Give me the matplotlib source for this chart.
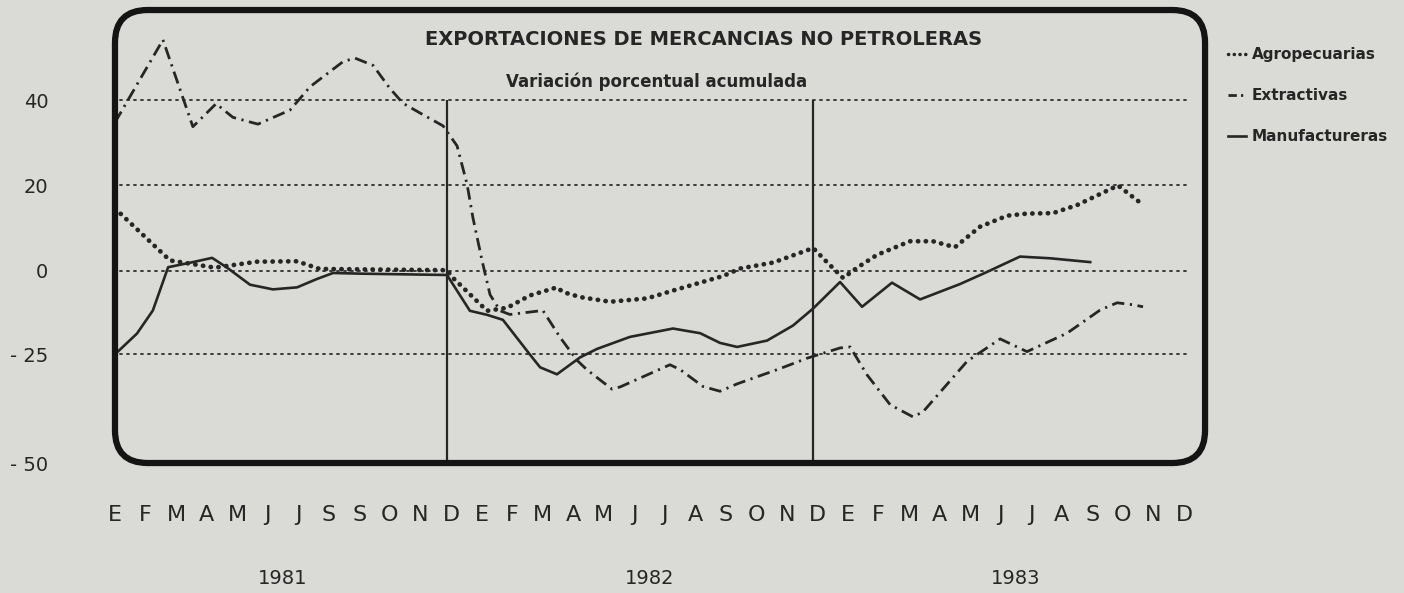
import numpy as np
import matplotlib
matplotlib.use("Agg")
import matplotlib.pyplot as plt
from matplotlib.patches import FancyBboxPatch
from matplotlib.lines import Line2D
import matplotlib.transforms as mtransforms

# months since January 1981 (vertex positions) and % values
agro_x = [0, 1.8, 3.27, 4.65, 5.96, 6.7, 10.87, 11.07, 12.18, 12.84, 13.59, 14.47, 14.67,
          15.23, 16.21, 17.42, 18.4, 19.91, 20.47, 21.55, 22.86, 23.31, 23.84, 24.3, 24.95,
          26.03, 26.78, 27.5, 28.32, 29.21, 29.86, 30.71, 31.5, 32.84, 33.56]
agro_y = [14.6, 2.4, 0.7, 2.1, 2.2, 0.4, 0.1, -2.2, -12.0, -11.1, -7.4, -5.0, -6.4,
          -7.9, -9.3, -8.3, -5.6, -1.6, 0.5, 1.9, 5.3, 2.0, -2.2, 0.7, 3.7,
          6.9, 6.9, 5.5, 10.3, 12.9, 13.4, 13.5, 15.4, 20.0, 16.0]

extr_x = [0, 1.57, 2.55, 3.31, 3.86, 4.68, 5.73, 6.39, 7.47, 7.86, 8.45, 9.0, 9.43, 10.09,
          10.74, 11.2, 11.53, 11.72, 12.02, 12.28, 12.61, 12.93, 14.01, 14.57, 15.13, 15.46,
          16.27, 16.54, 18.17, 18.5, 19.25, 19.81, 20.37, 21.77, 22.66, 23.74, 24.07, 24.62,
          25.38, 26.13, 26.46, 27.9, 28.98, 29.86, 31.17, 32.25, 32.81, 33.33, 33.66]
extr_y = [34.8, 54.2, 33.8, 39.2, 36.0, 34.4, 37.7, 43.2, 49.1, 49.9, 48.2, 42.8, 39.3, 36.6,
          34.0, 29.3, 20.2, 12.4, 2.3, -7.2, -12.0, -13.1, -11.9, -19.9, -26.4, -28.6,
          -33.0, -32.5, -27.4, -28.5, -32.4, -33.5, -31.8, -28.3, -25.9, -23.1, -22.8, -29.7,
          -36.6, -39.4, -38.2, -26.6, -20.4, -24.2, -18.7, -11.8, -9.6, -10.2, -10.8]

manu_x = [0, 0.72, 1.24, 1.74, 2.55, 3.18, 3.67, 4.42, 5.17, 5.96, 6.61, 7.14, 8.02, 10.87,
          11.62, 12.18, 12.7, 13.59, 13.92, 14.47, 15.23, 15.78, 16.86, 18.27, 19.16, 19.81,
          20.37, 21.35, 22.2, 22.86, 23.74, 24.46, 25.44, 26.36, 27.67, 28.55, 29.63, 30.62,
          31.93]
manu_y = [-25.0, -18.8, -11.9, 0.8, 2.0, 3.0, 0.7, -4.2, -5.6, -5.0, -2.5, -0.7, -0.9, -1.3,
          -12.0, -13.2, -14.7, -25.1, -28.0, -29.6, -25.7, -23.4, -19.8, -17.3, -18.7, -21.6,
          -22.8, -20.9, -16.4, -11.3, -3.4, -10.8, -3.6, -8.6, -4.0, -0.4, 3.3, 2.9,
          2.0]

month_labels = (["E", "F", "M", "A", "M", "J", "J", "S", "S", "O", "N", "D"]
                + ["E", "F", "M", "A", "M", "J", "J", "A", "S", "O", "N", "D"] * 2)
years = ["1981", "1982", "1983"]
y_ticks = [40, 20, 0, -25, -50]
y_tick_labels = ["40", "20", "0", "- 25", "- 50"]
grid_levels = [40, 20, 0, -25]
year_breaks = [10.88, 22.87]

bg = "#dadad6"
ink = "#262626"


# the printed axis is not linear: 20 units above zero take the same room as 25 below
def fwd(v):
    v = np.asarray(v, float)
    return np.where(v >= 0, 4.25 * v, np.where(v >= -25, 3.34 * v, -83.5 + 4.34 * (v + 25)))


def inv(p):
    p = np.asarray(p, float)
    return np.where(p >= 0, p / 4.25, np.where(p >= -83.5, p / 3.34, (p + 83.5) / 4.34 - 25))


fig = plt.figure(figsize=(14.04, 5.93), dpi=100, facecolor=bg)
ax = fig.add_axes([0.0819, 0.2192, 0.7764, 0.7639])
ax.set_facecolor(bg)
ax.set_yscale("function", functions=(fwd, inv))
ax.set_xlim(0, 35.69)
ax.set_ylim(-50, 61.2)

for lvl in grid_levels:
    ax.axhline(lvl, xmin=0.005, xmax=0.985, color="#3a3a3a", lw=1.4,
               linestyle=(0, (1, 2.6)), dash_capstyle="round")
ax.vlines(year_breaks, -50, 40, color=ink, lw=1.6)

ax.plot(agro_x, agro_y, color=ink, lw=3.4, linestyle=(0, (0.05, 1.6)),
        dash_capstyle="round", label="Agropecuarias")
ax.plot(extr_x, extr_y, color=ink, lw=2.0, linestyle=(0, (4.5, 2, 0.8, 2)),
        label="Extractivas")
ax.plot(manu_x, manu_y, color=ink, lw=1.9, label="Manufactureras")

for s in ax.spines.values():
    s.set_visible(False)
frame = FancyBboxPatch((0, 0), 1, 1, boxstyle="round,pad=0,rounding_size=0.03",
                       mutation_aspect=1090 / 453, transform=ax.transAxes,
                       fill=False, edgecolor="#141414", lw=4.5, clip_on=False, zorder=5)
ax.add_patch(frame)

ax.set_xticks(range(36))
ax.set_xticklabels(month_labels, fontsize=16, color=ink)
ax.tick_params(axis="x", length=0, pad=30)
ax.set_yticks(y_ticks)
ax.set_yticklabels(y_tick_labels, fontsize=14, color=ink)
ax.yaxis.set_minor_locator(matplotlib.ticker.NullLocator())
ax.tick_params(axis="y", length=0, pad=48)

year_tr = mtransforms.blended_transform_factory(ax.transData, fig.transFigure)
for k, yr in enumerate(years):
    ax.text(5.5 + 12 * k, 0.025, yr, transform=year_tr,
            ha="center", va="center", fontsize=14, color=ink)

ax.text(0.54, 0.935, "EXPORTACIONES DE MERCANCIAS NO PETROLERAS", transform=ax.transAxes,
        ha="center", va="center", fontsize=14, fontweight="bold", color=ink)
ax.text(0.497, 0.842, "Variación porcentual acumulada", transform=ax.transAxes,
        ha="center", va="center", fontsize=12, fontweight="bold", color=ink)

handles = [Line2D([], [], color=ink, lw=2.5, linestyle=(0, (0.05, 1.6)), dash_capstyle="round"),
           Line2D([], [], color=ink, lw=2.0, linestyle=(0, (3, 1.5, 0.8, 1.5))),
           Line2D([], [], color=ink, lw=1.9)]
leg = ax.legend(handles, ["Agropecuarias", "Extractivas", "Manufactureras"],
                loc="upper left", bbox_to_anchor=(1.008, 0.948), frameon=False,
                handlelength=1.2, handletextpad=0.4, labelspacing=1.7,
                prop={"size": 11, "weight": "bold"})
for t in leg.get_texts():
    t.set_color(ink)

fig.savefig("out.png", dpi=100, facecolor=bg)
